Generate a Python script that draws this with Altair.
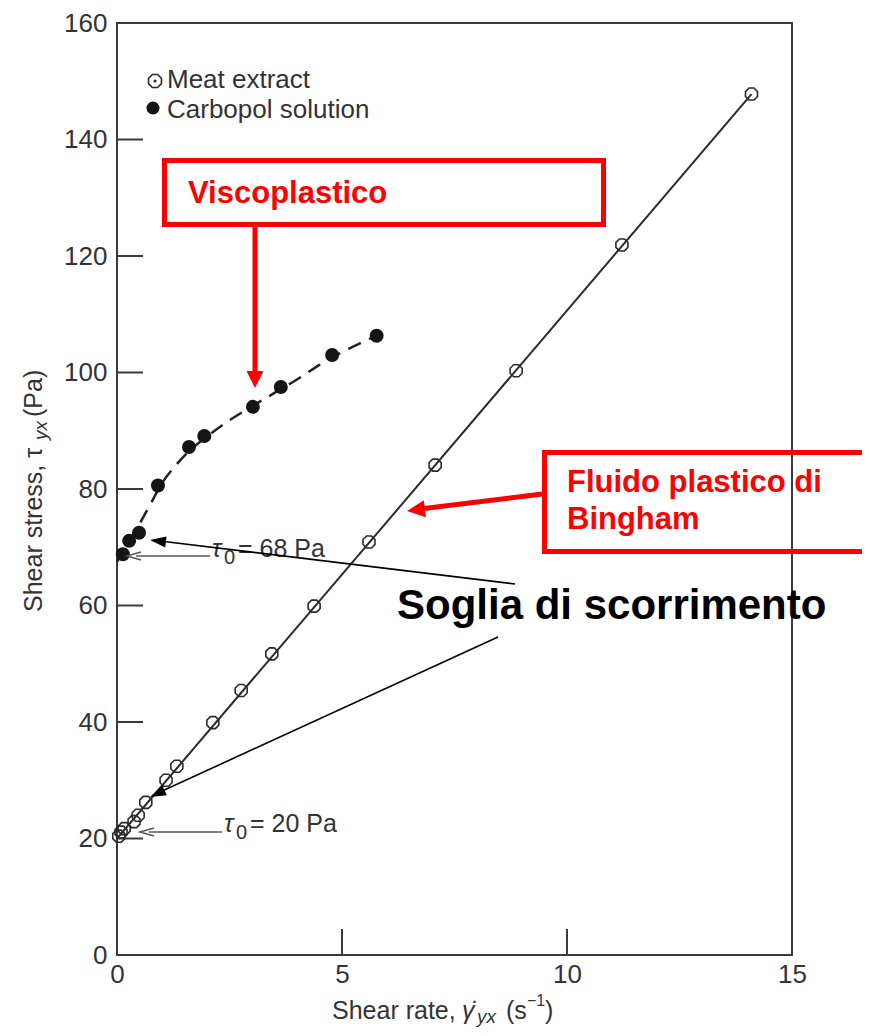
import math
import altair as alt
import pandas as pd

# ---------------- data ----------------
meat_rate = [0.04, 0.09, 0.16, 0.38, 0.47, 0.64, 1.09, 1.33, 2.13, 2.76, 3.44, 4.38, 5.6, 7.07, 8.87, 11.22, 14.1]
meat_stress = [20.4, 21.1, 21.7, 22.9, 24.0, 26.2, 30.0, 32.4, 39.9, 45.4, 51.7, 59.9, 70.9, 84.1, 100.3, 121.9, 147.8]
bingham_rate = [0.0, 14.1]
bingham_stress = [20.0, 147.8]
carbopol_rate = [0.13, 0.27, 0.49, 0.91, 1.6, 1.94, 3.02, 3.64, 4.78, 5.77]
carbopol_stress = [68.8, 71.1, 72.5, 80.6, 87.2, 89.1, 94.1, 97.5, 103.0, 106.3]
fit_rate = [0.0, 0.15, 0.3, 0.5, 0.75, 1.0, 1.3, 1.6, 2.0, 2.5, 3.0, 3.5, 4.0, 4.5, 5.0, 5.4, 5.77]
fit_stress = [67.5, 69.5, 71.5, 74.0, 77.5, 81.0, 84.0, 86.5, 89.0, 91.8, 94.2, 96.5, 98.8, 101.3, 103.5, 105.0, 106.3]
x_tick_labels = [0, 5, 10, 15]
y_tick_labels = [0, 20, 40, 60, 80, 100, 120, 140, 160]
x_inner_ticks = [5, 10]
y_inner_ticks = [20, 40, 60, 80, 100, 120, 140]

W, H = 675, 932
OX, OY = 117, 23  # page position of the plot origin
FONT = "Liberation Sans"
GREY = "#333333"
RED = "#ff0000"

xs = alt.Scale(domain=[0, 15], nice=False, zero=False)
ys = alt.Scale(domain=[0, 160], nice=False, zero=False)
XAX = alt.Axis(values=x_tick_labels, ticks=False, domain=False, grid=False, tickSize=0,
               labelPadding=6, labelFlush=False, labelFontSize=26, labelFont=FONT,
               labelColor=GREY, format="d")
YAX = alt.Axis(values=y_tick_labels, ticks=False, domain=False, grid=False, tickSize=0,
               labelPadding=10, labelFontSize=26, labelFont=FONT,
               labelColor=GREY, format="d")


def X(f):
    return alt.X(f, scale=xs, axis=XAX, title=None)


def Y(f):
    return alt.Y(f, scale=ys, axis=YAX, title=None)


meat = pd.DataFrame({"rate": meat_rate, "stress": meat_stress})
bing = pd.DataFrame({"rate": bingham_rate, "stress": bingham_stress})
carb = pd.DataFrame({"rate": carbopol_rate, "stress": carbopol_stress})
fit = pd.DataFrame({"rate": fit_rate, "stress": fit_stress})
dummy = pd.DataFrame({"a": [0]})

OCT = "M0.924,0.383L0.383,0.924L-0.383,0.924L-0.924,0.383L-0.924,-0.383L-0.383,-0.924L0.383,-0.924L0.924,-0.383Z"

layers = []

# inward ticks
layers.append(alt.Chart(pd.DataFrame({"v": y_inner_ticks})).mark_rule(color="#3a3a3a", strokeWidth=2).encode(
    y=Y("v:Q"), x=alt.value(0), x2=alt.value(26)))
layers.append(alt.Chart(pd.DataFrame({"v": x_inner_ticks})).mark_rule(color="#3a3a3a", strokeWidth=2).encode(
    x=X("v:Q"), y=alt.value(H), y2=alt.value(H - 26)))

# series
layers.append(alt.Chart(bing).mark_line(color="#2b2b2b", strokeWidth=2).encode(
    x=X("rate:Q"), y=Y("stress:Q")))
layers.append(alt.Chart(fit).mark_line(color="#222", strokeWidth=2.5, strokeDash=[14, 9], interpolate="monotone").encode(
    x=X("rate:Q"), y=Y("stress:Q")))
layers.append(alt.Chart(meat).mark_point(shape=OCT, size=169, filled=False, color="#2b2b2b", strokeWidth=1.6, opacity=1).encode(
    x=X("rate:Q"), y=Y("stress:Q")))
layers.append(alt.Chart(carb).mark_point(shape="circle", size=196, filled=True, color="#151515", opacity=1).encode(
    x=X("rate:Q"), y=Y("stress:Q")))


def P(Xp, Yp):
    return Xp - OX, Yp - OY


def text(t, Xp, Yp, size, color=GREY, weight="normal", style="normal", baseline="alphabetic", angle=0):
    x, y = P(Xp, Yp)
    kw = dict(text=t, fontSize=size, font=FONT, color=color, fontWeight=weight, fontStyle=style,
              align="left", baseline=baseline)
    if angle:
        kw["angle"] = angle
    return alt.Chart(dummy).mark_text(**kw).encode(x=alt.value(x), y=alt.value(y))


def seg(X1, Y1, X2, Y2, color, width):
    x1, y1 = P(X1, Y1)
    x2, y2 = P(X2, Y2)
    return alt.Chart(dummy).mark_rule(color=color, strokeWidth=width).encode(
        x=alt.value(x1), y=alt.value(y1), x2=alt.value(x2), y2=alt.value(y2))


def head(Xs, Ys, Xt, Yt, length, width, color, shape="tri"):
    dx, dy = Xt - Xs, Yt - Ys
    n = math.hypot(dx, dy)
    ux, uy = dx / n, dy / n
    ang = math.degrees(math.atan2(ux, -uy)) % 360
    half = length / 2
    cx, cy = P(Xt - ux * half, Yt - uy * half)
    w = width / length
    if shape == "tri":
        path = f"M0,-1L{w:.3f},1L{-w:.3f},1Z"
        return alt.Chart(dummy).mark_point(shape=path, size=length * length, filled=True, color=color,
                                           opacity=1, angle=ang).encode(x=alt.value(cx), y=alt.value(cy))
    path = f"M{-w:.3f},1L0,-1L{w:.3f},1"
    return alt.Chart(dummy).mark_point(shape=path, size=length * length, filled=False, color=color,
                                       strokeWidth=1.5, opacity=1, angle=ang).encode(x=alt.value(cx), y=alt.value(cy))


def box(X1, Y1, X2, Y2):
    x1, y1 = P(X1, Y1)
    x2, y2 = P(X2, Y2)
    return alt.Chart(dummy).mark_rect(fillOpacity=0, stroke=RED, strokeWidth=5).encode(
        x=alt.value(x1), y=alt.value(y1), x2=alt.value(x2), y2=alt.value(y2))


# legend
lx, ly = P(155, 81)
layers.append(alt.Chart(dummy).mark_point(shape=OCT, size=196, filled=False, color="#2b2b2b", strokeWidth=1.6, opacity=1)
              .encode(x=alt.value(lx), y=alt.value(ly)))
layers.append(alt.Chart(dummy).mark_point(shape="circle", size=10, filled=True, color="#2b2b2b", opacity=1)
              .encode(x=alt.value(lx), y=alt.value(ly)))
lx2, ly2 = P(153, 108)
layers.append(alt.Chart(dummy).mark_point(shape="circle", size=170, filled=True, color="#151515", opacity=1)
              .encode(x=alt.value(lx2), y=alt.value(ly2)))
layers.append(text("Meat extract", 167, 80, 26, baseline="middle"))
layers.append(text("Carbopol solution", 167, 110, 26, baseline="middle"))

# tau0 annotations
layers.append(seg(210, 556, 136, 556, "#555", 1.5))
layers.append(head(210, 556, 127, 556, 14, 8, "#555", shape="chev"))
layers.append(text("τ", 212, 557, 25, style="italic"))
layers.append(text("0", 224, 564, 20))
layers.append(text("= 68 Pa", 238, 557, 25))

layers.append(seg(222, 832, 149, 832, "#555", 1.5))
layers.append(head(222, 832, 140, 832, 14, 8, "#555", shape="chev"))
layers.append(text("τ", 224, 832, 25, style="italic"))
layers.append(text("0", 236, 839, 20))
layers.append(text("= 20 Pa", 250, 832, 25))

# red boxes and arrows
layers.append(box(164.5, 160.5, 603.5, 224.5))
layers.append(text("Viscoplastico", 188, 194, 31, color=RED, weight="bold", baseline="middle"))
layers.append(seg(255, 224, 255, 375, RED, 5))
layers.append(head(255, 224, 255, 388, 17, 17, RED))

layers.append(box(544.5, 452.5, 900, 551.5))
layers.append(text("Fluido plastico di", 567, 483, 31, color=RED, weight="bold", baseline="middle"))
layers.append(text("Bingham", 567, 520, 31, color=RED, weight="bold", baseline="middle"))
layers.append(seg(542, 494, 420, 509, RED, 5))
layers.append(head(542, 494, 407, 511, 18, 17, RED))

# black annotation
layers.append(text("Soglia di scorrimento", 397, 606, 42, color="#000", weight="bold", baseline="middle"))
layers.append(seg(515, 584, 160, 541, "#000", 1.6))
layers.append(head(515, 584, 150, 540, 16, 11, "#000"))
layers.append(seg(498, 637, 160, 792, "#000", 1.6))
layers.append(head(498, 637, 150, 797, 16, 11, "#000"))

# axis titles in pieces (for sub/superscripts)
layers.append(text("Shear rate,", 332, 1019, 25))
layers.append(text("γ̇", 462, 1019, 25, style="italic"))
layers.append(text("yx", 477, 1023, 19, style="italic"))
layers.append(text("(s", 506, 1019, 25))
layers.append(text("−1", 527, 1006, 16))
layers.append(text(")", 545, 1019, 25))

layers.append(text("Shear stress, τ", 42, 612, 25, angle=270))
layers.append(text("yx", 47, 440, 19, angle=270, style="italic"))
layers.append(text("(Pa)", 42, 417, 25, angle=270))

chart = alt.layer(*layers).properties(
    width=W, height=H,
    background="white",
    autosize=alt.AutoSizeParams(type="none"),
    padding={"left": 109, "top": 15, "right": 70, "bottom": 73},
).configure_view(stroke="#3a3a3a", strokeWidth=2)

chart.save("out.html", embed_options={"renderer": "svg", "actions": False})
